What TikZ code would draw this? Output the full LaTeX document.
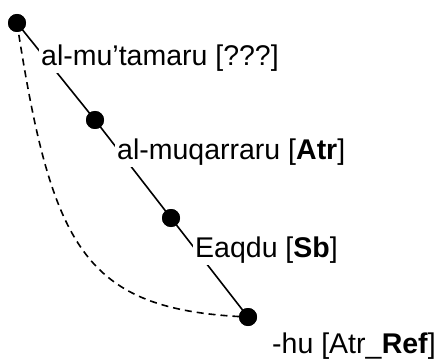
\documentclass[tikz,border=0pt]{standalone}
\usepackage{fontspec}
\setmainfont{Liberation Sans}
\begin{document}
\begin{tikzpicture}[x=1pt,y=-1pt,
  dot/.style={circle,fill=black,inner sep=0pt,minimum size=18pt},
  lbl/.style={anchor=west,fill=white,inner sep=2pt,font=\fontsize{28.5}{32}\selectfont},
  edge/.style={line width=1.6pt},
  dashedge/.style={line width=1.6pt,dash pattern=on 7pt off 5pt}]
\useasboundingbox (0,0) rectangle (443,363);
\node[dot] (n1) at (17,23) {};
\node[dot] (n2) at (95,120) {};
\node[dot] (n3) at (171,218) {};
\node[dot] (n4) at (248,317) {};
\draw[edge] (n1.center) -- (n2.center) -- (n3.center) -- (n4.center);
\draw[dashedge] (n1.center) .. controls (52,250) and (85,310) .. (n4.center);
\node[lbl] (l1) at (39,58) {al-mu’tamaru [???]};
\node[lbl] (l2) at (115,152) {al-muqarraru [\textbf{Atr}]};
\node[lbl] (l3) at (193,250) {Eaqdu [\textbf{Sb}]};
\node[lbl] (l4) at (270,346) {-hu [Atr\_\textbf{Ref}]};
\node[dot] at (n1) {};
\node[dot] at (n2) {};
\node[dot] at (n3) {};
\node[dot] at (n4) {};
\end{tikzpicture}
\end{document}
